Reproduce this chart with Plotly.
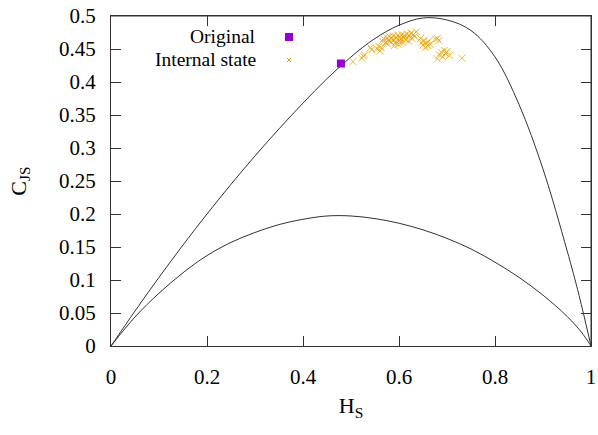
import plotly.graph_objects as go

# Upper (maximum complexity) curve
cmax_h = [0.0, 0.05, 0.1, 0.15, 0.2, 0.25, 0.3, 0.35, 0.4, 0.45, 0.5, 0.55, 0.6, 0.65,
          0.7, 0.75, 0.8, 0.85, 0.9, 0.95, 0.975, 1.0]
cmax_c = [0.0, 0.053, 0.104, 0.153, 0.200, 0.245, 0.288, 0.329, 0.368, 0.405, 0.438, 0.466, 0.486, 0.497,
          0.494, 0.478, 0.438, 0.366, 0.268, 0.145, 0.077, 0.0]

# Lower (minimum complexity) curve
cmin_h = [0.0, 0.05, 0.1, 0.15, 0.2, 0.25, 0.3, 0.35, 0.4, 0.45, 0.5, 0.55, 0.6, 0.65,
          0.7, 0.75, 0.8, 0.85, 0.9, 0.95, 0.98, 1.0]
cmin_c = [0.0, 0.044, 0.080, 0.111, 0.137, 0.157, 0.172, 0.184, 0.192, 0.197, 0.197, 0.193, 0.186, 0.176,
          0.163, 0.147, 0.127, 0.104, 0.077, 0.045, 0.021, 0.0]

# Original series
orig_h = [0.479]
orig_c = [0.428]

# Internal state series
state_h = [0.504, 0.523, 0.526, 0.528, 0.541, 0.543, 0.555, 0.558, 0.561, 0.563,
           0.565, 0.568, 0.572, 0.575, 0.578, 0.580, 0.583, 0.585, 0.588, 0.590,
           0.592, 0.595, 0.597, 0.600, 0.602, 0.604, 0.606, 0.608, 0.610, 0.612,
           0.614, 0.616, 0.618, 0.620, 0.622, 0.625, 0.627, 0.630, 0.633, 0.636,
           0.575, 0.590, 0.598, 0.603,
           0.645, 0.648, 0.650, 0.652, 0.655, 0.657, 0.660, 0.662, 0.665,
           0.676, 0.680, 0.683,
           0.680, 0.684, 0.688, 0.691, 0.694, 0.697, 0.700, 0.705,
           0.731]
state_c = [0.431, 0.436, 0.439, 0.441, 0.452, 0.449, 0.450, 0.454, 0.447, 0.452,
           0.462, 0.466, 0.460, 0.467, 0.463, 0.469, 0.461, 0.466, 0.470, 0.464,
           0.459, 0.467, 0.471, 0.463, 0.468, 0.465, 0.472, 0.460, 0.467, 0.470,
           0.464, 0.473, 0.468, 0.462, 0.471, 0.474, 0.466, 0.472, 0.469, 0.476,
           0.458, 0.455, 0.457, 0.459,
           0.466, 0.460, 0.456, 0.463, 0.452, 0.459, 0.455, 0.462, 0.457,
           0.465, 0.466, 0.463,
           0.435, 0.441, 0.445, 0.438, 0.448, 0.443, 0.446, 0.440,
           0.436]

x_ticks = [0, 0.2, 0.4, 0.6, 0.8, 1]
x_ticklabels = ["0", "0.2", "0.4", "0.6", "0.8", "1"]
y_ticks = [0, 0.05, 0.1, 0.15, 0.2, 0.25, 0.3, 0.35, 0.4, 0.45, 0.5]
y_ticklabels = ["0", "0.05", "0.1", "0.15", "0.2", "0.25", "0.3", "0.35", "0.4", "0.45", "0.5"]

PURPLE = "#9400D3"
ORANGE = "#E69F00"
LINE = "#333333"
FONT = "Liberation Serif, Times New Roman, DejaVu Serif, serif"

fig = go.Figure()
fig.add_trace(go.Scatter(x=cmax_h, y=cmax_c, mode="lines", line=dict(color=LINE, width=1, shape="spline"),
                         showlegend=False, hoverinfo="skip"))
fig.add_trace(go.Scatter(x=cmin_h, y=cmin_c, mode="lines", line=dict(color=LINE, width=1, shape="spline"),
                         showlegend=False, hoverinfo="skip"))
fig.add_trace(go.Scatter(x=state_h, y=state_c, mode="markers", name="Internal state",
                         marker=dict(symbol="x-thin", size=7, color=ORANGE, opacity=0.75,
                                     line=dict(color=ORANGE, width=1)),
                         showlegend=False))
fig.add_trace(go.Scatter(x=orig_h, y=orig_c, mode="markers", name="Original",
                         marker=dict(symbol="square", size=8, color=PURPLE, line=dict(width=0)),
                         showlegend=False))

# integer pixel geometry: 96 px per 0.2 on x, 33 px per 0.05 on y
W, H = 598, 435
L, R, T, B = 111, 7, 16, 89
pw, ph = W - L - R, H - T - B

def px_x(px):
    return (px - L) / pw

def px_y(py):
    return (H - B - py) / ph

# gnuplot-style key: right-aligned text with sample to its right
fig.add_annotation(x=px_x(258), y=px_y(37), xref="paper", yref="paper", text="Original",
                   showarrow=False, xanchor="right", yanchor="middle",
                   font=dict(family=FONT, size=19.5, color="black"))
fig.add_annotation(x=px_x(258), y=px_y(60), xref="paper", yref="paper", text="Internal state",
                   showarrow=False, xanchor="right", yanchor="middle",
                   font=dict(family=FONT, size=19.5, color="black"))
fig.add_shape(type="rect", xref="paper", yref="paper",
              x0=px_x(285), x1=px_x(293), y0=px_y(41), y1=px_y(33),
              fillcolor=PURPLE, line=dict(width=0))
fig.add_shape(type="line", xref="paper", yref="paper",
              x0=px_x(287), x1=px_x(291), y0=px_y(58), y1=px_y(62),
              line=dict(color=ORANGE, width=1))
fig.add_shape(type="line", xref="paper", yref="paper",
              x0=px_x(287), x1=px_x(291), y0=px_y(62), y1=px_y(58),
              line=dict(color=ORANGE, width=1))
# top and right border drawn as thin filled bands
fig.add_shape(type="rect", xref="paper", yref="paper", x0=0, x1=1,
              y0=px_y(T + 0.5), y1=px_y(T - 0.6),
              fillcolor=LINE, line=dict(width=0), layer="above")
fig.add_shape(type="rect", xref="paper", yref="paper", x0=px_x(W - R - 0.5), x1=px_x(W - R + 0.6),
              y0=0, y1=1, fillcolor=LINE, line=dict(width=0), layer="above")

axis_common = dict(showgrid=False, zeroline=False, showline=True, linecolor=LINE, linewidth=1,
                   mirror="ticks", ticks="inside", ticklen=10, tickcolor=LINE, tickwidth=1,
                   automargin=False, ticklabeloverflow="allow",
                   tickfont=dict(family=FONT, size=21, color="black"))

fig.update_xaxes(range=[0, 1], tickvals=x_ticks, ticktext=x_ticklabels,
                 title=dict(text="H<sub>S</sub>", font=dict(family=FONT, size=22, color="black"), standoff=9),
                 ticklabelstandoff=12, **axis_common)
fig.update_yaxes(range=[0, 0.5], tickvals=y_ticks, ticktext=y_ticklabels,
                 title=dict(text="C<sub>JS</sub>", font=dict(family=FONT, size=22, color="black"), standoff=26),
                 ticklabelstandoff=10, **axis_common)

fig.update_layout(width=W, height=H, margin=dict(l=L, r=R, t=T, b=B, autoexpand=False),
                  plot_bgcolor="white", paper_bgcolor="white", showlegend=False)

fig.write_html("out.html", config={"displayModeBar": False, "staticPlot": True},
               post_script="document.body.style.margin='0';document.body.style.overflow='hidden';")
